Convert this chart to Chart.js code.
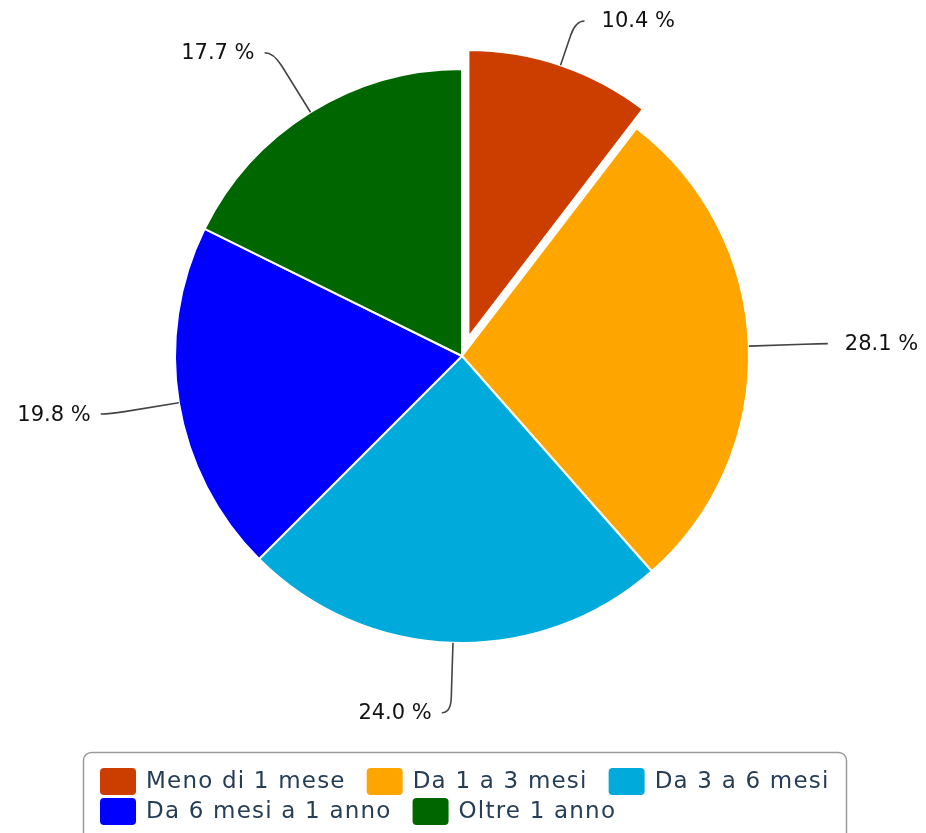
<!DOCTYPE html>
<html><head><meta charset="utf-8">
<script src="https://cdn.jsdelivr.net/npm/chart.js@4.4.1/dist/chart.umd.min.js"></script>
<style>html,body{margin:0;padding:0;background:#fff;overflow:hidden}canvas{display:block}</style>
</head><body>
<canvas id="c" width="926" height="833"></canvas>
<script>
const categories = ['Meno di 1 mese', 'Da 1 a 3 mesi', 'Da 3 a 6 mesi', 'Da 6 mesi a 1 anno', 'Oltre 1 anno'];
const values = [10.4, 28.1, 24.0, 19.8, 17.7];
const sliceColors = ['#CC3D00', '#FFA500', '#00AADB', '#0000FF', '#006600'];
const explodedSlices = [true, false, false, false, false];

const EXPLODE = 20;
const LABEL_DIST = 70;
const LABEL_FONT = '21px "DejaVu Sans", sans-serif';
const LEGEND_FONT = '23px "DejaVu Sans", sans-serif';

const explodePlugin = {
  id: 'explode',
  afterDatasetsUpdate(chart) {
    const meta = chart.getDatasetMeta(0);
    meta.data.forEach((arc, i) => {
      if (!explodedSlices[i]) return;
      arc.draw = function (ctx) {
        const a = (this.startAngle + this.endAngle) / 2;
        ctx.save();
        ctx.translate(Math.cos(a) * EXPLODE, Math.sin(a) * EXPLODE);
        Chart.ArcElement.prototype.draw.call(this, ctx);
        ctx.restore();
      };
    });
  }
};

const labelPlugin = {
  id: 'pieLabels',
  afterDatasetsDraw(chart) {
    const ctx = chart.ctx;
    const meta = chart.getDatasetMeta(0);
    const ds = chart.data.datasets[0];
    ctx.save();
    ctx.font = LABEL_FONT;
    ctx.textBaseline = 'middle';
    meta.data.forEach((arc, i) => {
      const a = (arc.startAngle + arc.endAngle) / 2;
      const ux = Math.cos(a), uy = Math.sin(a);
      const sh = explodedSlices[i] ? EXPLODE : 0;
      const cx = arc.x + ux * sh, cy = arc.y + uy * sh, r = arc.outerRadius;
      const bx = cx + ux * r, by = cy + uy * r;
      let lx = cx + ux * (r + LABEL_DIST), ly = cy + uy * (r + LABEL_DIST);
      let t = LABEL_DIST;
      const minY = 21, maxY = chart.height - 21;
      if (ly < minY || ly > maxY) {
        ly = Math.min(Math.max(ly, minY), maxY);
        t = (ly - by) / uy;
        lx = bx + ux * t;
      }
      const side = ux >= 0 ? 1 : -1;
      const ex = lx + side * 9;
      const tb = Math.max(t - 15, 0);
      ctx.beginPath();
      ctx.moveTo(bx, by);
      ctx.lineTo(bx + ux * tb, by + uy * tb);
      ctx.quadraticCurveTo(lx, ly, ex, ly);
      ctx.strokeStyle = '#444';
      ctx.lineWidth = 1.6;
      ctx.stroke();
      ctx.fillStyle = '#111';
      const txt = ds.data[i].toFixed(1) + ' %';
      if (side > 0) { ctx.textAlign = 'left'; ctx.fillText(txt, ex + 17, ly + 1); }
      else { ctx.textAlign = 'right'; ctx.fillText(txt, ex - 10, ly + 1); }
    });
    ctx.restore();
  }
};

const legendPlugin = {
  id: 'boxLegend',
  afterDraw(chart) {
    const ctx = chart.ctx;
    const box = { x: 83.5, y: 752.5, w: 763, h: 90, r: 8 };
    ctx.save();
    ctx.beginPath();
    ctx.roundRect(box.x, box.y, box.w, box.h, box.r);
    ctx.strokeStyle = '#9a9a9a';
    ctx.lineWidth = 1.5;
    ctx.stroke();
    ctx.font = LEGEND_FONT;
    ctx.letterSpacing = '1.2px';
    ctx.textBaseline = 'middle';
    ctx.textAlign = 'left';
    const startX = 100, sw = 36, sh = 27, gap = 10, itemGap = 21, rowH = 30;
    let x = startX, rowTop = 768;
    const labels = chart.data.labels;
    const colors = chart.data.datasets[0].backgroundColor;
    labels.forEach((lab, i) => {
      const tw = ctx.measureText(lab).width;
      const w = sw + gap + tw;
      if (x + w > box.x + box.w - 10 && x > startX) { x = startX; rowTop += rowH; }
      ctx.beginPath();
      ctx.roundRect(x, rowTop, sw, sh, 4);
      ctx.fillStyle = colors[i];
      ctx.fill();
      ctx.fillStyle = '#263d56';
      ctx.fillText(lab, x + sw + gap, rowTop + sh / 2 + 1);
      x += w + itemGap;
    });
    ctx.restore();
  }
};

new Chart(document.getElementById('c'), {
  type: 'pie',
  data: {
    labels: categories,
    datasets: [{
      data: values,
      backgroundColor: sliceColors,
      borderColor: '#ffffff',
      borderWidth: 2,
      radius: 287
    }]
  },
  options: {
    responsive: false,
    devicePixelRatio: 1,
    animation: false,
    events: [],
    layout: { padding: { left: 0, right: 2, top: 0, bottom: 121 } },
    plugins: { legend: { display: false }, tooltip: { enabled: false } }
  },
  plugins: [explodePlugin, labelPlugin, legendPlugin]
});
</script>
</body></html>
